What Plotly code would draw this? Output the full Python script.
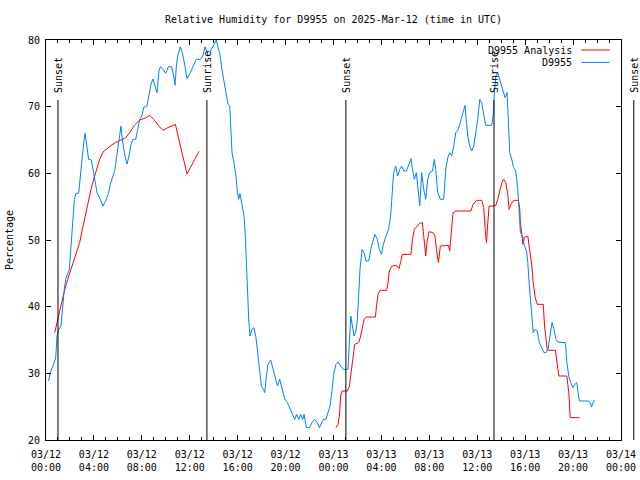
import pandas as pd
import plotly.graph_objects as go

START = pd.Timestamp("2025-03-12 00:00")
END = pd.Timestamp("2025-03-14 00:00")

# D9955 observations: hours since 03/12 00:00 UTC, relative humidity (%)
obs_hours = [0.22, 0.35, 0.64, 0.81, 0.92, 1.06, 1.25, 1.39, 1.53, 1.64, 1.81, 1.95, 2.03, 2.14, 2.25, 2.37,
             2.5, 2.73, 2.87, 3.0, 3.15, 3.26, 3.42, 3.56, 3.79, 3.98, 4.26, 4.54, 4.76, 4.96, 5.23, 5.37,
             5.57, 5.73, 5.87, 6.04, 6.15, 6.26, 6.37, 6.54, 6.76, 6.93, 7.1, 7.26, 7.49, 7.65, 7.82, 8.0,
             8.16, 8.43, 8.6, 8.77, 8.93, 9.1, 9.27, 9.43, 9.55, 9.77, 9.99, 10.22, 10.49, 10.66, 10.77,
             10.88, 10.99, 11.22, 11.38, 11.6, 11.77, 12.05, 12.33, 12.55, 12.89, 13.1, 13.27, 13.44, 13.72,
             13.94, 14.22, 14.39, 14.5, 14.64, 14.78, 14.92, 15.06, 15.19, 15.34, 15.42, 15.53, 15.69, 15.86,
             15.98, 16.09, 16.19, 16.36, 16.53, 16.64, 16.73, 16.81, 16.92, 17.03, 17.2, 17.36, 17.53, 17.7,
             17.84, 17.98, 18.15, 18.26, 18.4, 18.53, 18.76, 18.95, 19.15, 19.32, 19.51, 19.7, 19.93, 20.15,
             20.37, 20.6, 20.76, 20.93, 21.1, 21.26, 21.43, 21.54, 21.74, 22.01, 22.2, 22.43, 22.65, 22.82,
             22.99, 23.15, 23.37, 23.54, 23.71, 23.82, 23.93, 24.04, 24.21, 24.38, 24.6, 24.83, 25.21, 25.33,
             25.44, 25.58, 25.71, 25.88, 25.99, 26.1, 26.21, 26.38, 26.55, 26.71, 26.94, 27.11, 27.27, 27.44,
             27.66, 27.83, 28.0, 28.16, 28.38, 28.6, 28.77, 28.88, 29.02, 29.19, 29.36, 29.53, 29.69, 29.86,
             30.08, 30.3, 30.47, 30.64, 30.75, 30.92, 31.09, 31.2, 31.36, 31.53, 31.7, 31.86, 32.03, 32.26,
             32.42, 32.53, 32.7, 32.92, 33.2, 33.37, 33.54, 33.7, 33.87, 34.04, 34.2, 34.37, 34.54, 34.71,
             34.87, 34.98, 35.1, 35.21, 35.37, 35.54, 35.71, 35.87, 36.04, 36.21, 36.37, 36.54, 36.71, 37.21,
             37.32, 37.44, 37.55, 37.71, 37.88, 38.05, 38.21, 38.32, 38.49, 38.6, 38.71, 38.88, 39.04, 39.21,
             39.38, 39.49, 39.6, 39.77, 39.94, 40.11, 40.22, 40.33, 40.45, 40.56, 40.67, 40.84, 41.01, 41.18,
             41.4, 41.57, 41.74, 41.91, 42.07, 42.24, 42.41, 42.57, 42.74, 43.36, 43.48, 43.64, 43.81, 43.98,
             44.15, 44.31, 44.42, 44.53, 45.26, 45.43, 45.54, 45.77]
obs_rh = [28.85, 30.1, 31.4, 32.3, 35.6, 36.6, 37.1, 40.6, 42.6, 44.1, 45.1, 45.6, 47.6, 50.6, 53.6, 56.1,
          57.0, 57.0, 59.6, 62.6, 64.6, 66.0, 63.6, 62.1, 62.0, 60.1, 57.1, 56.1, 55.1, 55.8, 57.1, 58.4,
          59.6, 60.35, 62.1, 64.1, 65.6, 67.1, 65.1, 63.1, 61.4, 62.6, 64.4, 65.1, 65.1, 66.6, 68.1, 68.6,
          69.9, 70.1, 71.6, 73.4, 74.15, 73.1, 72.1, 75.35, 76.0, 75.6, 75.0, 76.0, 76.0, 74.6, 73.2,
          76.1, 77.6, 79.0, 78.1, 76.1, 74.2, 75.1, 76.1, 77.1, 77.1, 77.6, 79.0, 78.2, 78.35,
          79.1, 80.0, 78.6, 78.1, 76.1, 74.6, 72.6, 71.1, 70.35, 70.1, 66.6, 63.1, 61.6, 59.6,
          57.1, 56.1, 57.0, 55.1, 53.6, 50.6, 47.6, 43.1, 38.15, 35.6, 36.65, 36.85, 35.35, 32.6,
          30.1, 28.1, 27.6, 27.1, 29.6, 31.35, 32.0, 30.6, 29.1, 28.1, 29.1, 27.6, 26.1, 25.6,
          24.6, 23.85, 23.1, 23.85, 23.1, 23.85, 23.1, 23.85, 21.85, 21.85, 22.6, 23.1, 22.6, 21.85,
          22.6, 23.1, 23.1, 24.1, 25.1, 26.6, 28.6, 30.1, 31.35, 31.7, 31.1, 30.6, 30.6, 34.6,
          38.6, 37.1, 35.6, 36.35, 38.1, 41.6, 45.6, 48.6, 48.1, 46.85, 46.85, 48.6, 49.6, 50.85,
          50.1, 48.6, 47.85, 49.35, 50.6, 51.6, 53.6, 56.6, 60.1, 61.1, 59.6, 60.6, 61.1, 60.35,
          60.35, 61.35, 62.2, 60.1, 59.1, 60.1, 57.6, 55.1, 60.1, 57.6, 56.1, 59.1, 60.1, 60.35,
          62.1, 60.6, 57.1, 56.1, 56.1, 60.6, 62.35, 63.1, 62.6, 64.1, 66.1, 66.35, 67.35, 68.6,
          69.6, 70.2, 67.6, 65.6, 64.1, 63.35, 64.1, 66.1, 68.1, 71.1, 70.6, 68.85, 67.2, 67.2,
          68.6, 72.35, 74.6, 75.1, 74.1, 73.1, 72.35, 71.35, 72.1, 67.6, 63.1, 62.1, 60.85, 60.35,
          57.6, 54.6, 51.1, 50.6, 49.1, 48.35, 46.6, 43.6, 40.6, 38.1, 36.1, 36.6, 36.35, 34.6,
          33.6, 33.1, 33.1, 33.6, 35.6, 37.6, 36.6, 35.1, 34.7, 34.6, 31.6, 29.6, 28.6, 27.85,
          28.35, 28.6, 27.1, 25.85, 25.85, 25.6, 25.0, 26.0]

# D9955 Analysis (None marks the gap between the two analysis periods)
ana_hours = [0.73, 0.92, 1.09, 1.34, 1.53, 1.81, 2.09, 2.37, 2.59, 2.81, 3.04, 3.26, 3.54, 3.76, 3.98, 4.26,
             4.48, 4.76, 5.09, 5.43, 5.79, 6.21, 6.63, 6.99, 7.38, 7.82, 8.3, 8.66, 8.99, 9.41, 9.77, 10.16,
             10.52, 10.8, 11.22, 11.55, 11.77, 12.05, 12.39, 12.77, 18.0,
             24.21, 24.38, 24.49, 24.6, 24.71, 25.16, 25.33, 25.44, 25.55, 25.66, 25.77, 26.1, 26.27, 26.44,
             26.55, 26.75, 27.5, 27.59, 27.72, 27.89, 28.44, 28.55, 28.66, 28.88, 29.25, 29.47, 29.63, 29.75,
             30.47, 30.59, 30.75, 30.97, 31.2, 31.42, 31.53, 31.7, 31.8, 31.97, 32.31, 32.47, 32.59, 32.76,
             32.92, 33.59, 33.7, 33.81, 33.98, 34.26, 35.48, 35.65, 35.94, 36.38, 36.54, 36.66, 36.77, 36.88,
             36.99, 37.38, 37.55, 37.71, 37.88, 38.05, 38.21, 38.38, 38.55, 38.66, 38.82, 39.04, 39.43, 39.54,
             39.6, 39.71, 39.82, 39.94, 40.22, 40.33, 40.45, 40.56, 40.67, 40.84, 41.01, 41.51, 41.62, 41.74,
             41.85, 42.52, 42.64, 42.81, 43.48, 43.64, 43.76, 44.53]
ana_rh = [36.1, 37.6, 39.1, 40.6, 42.35, 44.1, 45.6, 47.1, 48.35, 49.6, 51.6, 53.6, 55.6, 57.6, 59.1, 60.6,
          62.1, 63.2, 63.7, 64.2, 64.6, 65.0, 65.3, 66.1, 67.2, 68.0, 68.3, 68.7, 68.1, 67.1, 66.45, 66.85,
          67.2, 67.35, 64.1, 61.6, 59.9, 60.85, 62.1, 63.3, None,
          21.85, 22.35, 23.6, 26.6, 27.35, 27.35, 28.1, 29.6, 31.6, 33.35, 34.35, 34.6, 35.6, 37.1,
          38.1, 38.45, 38.45, 40.1, 41.85, 42.45, 42.45, 43.6, 45.35, 46.1, 46.2, 45.7, 47.1, 47.85,
          47.85, 50.1, 51.6, 52.1, 52.5, 52.6, 50.6, 47.6, 49.6, 51.25, 51.1, 50.6, 48.6, 46.6,
          49.1, 49.2, 48.35, 50.6, 54.1, 54.35, 54.35, 55.35, 55.95, 55.95, 54.85, 51.6, 49.6, 52.6,
          55.1, 55.1, 55.2, 56.1, 57.6, 58.6, 59.1, 58.6, 56.85, 54.6, 55.35, 55.95, 55.95, 54.85,
          52.6, 50.6, 49.35, 50.4, 50.6, 49.1, 47.6, 46.1, 43.6, 41.35, 40.35, 40.35, 37.1, 34.6,
          33.45, 33.45, 31.6, 29.6, 29.6, 27.1, 23.35, 23.35]

sun_labels = ["Sunset", "Sunrise", "Sunset", "Sunrise", "Sunset"]
sun_times = ["2025-03-12 01:00", "2025-03-12 13:26", "2025-03-13 01:02",
             "2025-03-13 13:24", "2025-03-14 01:04"]

legend_names = ["D9955 Analysis", "D9955"]
legend_colors = ["#ff0000", "#0080ff"]

FONT = "DejaVu Sans Mono"


def to_time(hours):
    return [START + pd.Timedelta(hours=h) for h in hours]


fig = go.Figure()
fig.add_trace(go.Scatter(x=to_time(ana_hours), y=ana_rh, mode="lines", name=legend_names[0],
                         line=dict(color=legend_colors[0], width=1), connectgaps=False))
fig.add_trace(go.Scatter(x=to_time(obs_hours), y=obs_rh, mode="lines", name=legend_names[1],
                         line=dict(color=legend_colors[1], width=1)))

span = (END - START).total_seconds()
y_top_frac = (71 - 20) / 60.0
for lab, t in zip(sun_labels, sun_times):
    xf = (pd.Timestamp(t) - START).total_seconds() / span
    fig.add_shape(type="line", xref="paper", yref="paper", x0=xf, x1=xf, y0=0, y1=y_top_frac,
                  line=dict(color="black", width=1))
    fig.add_annotation(x=xf, y=y_top_frac, xref="paper", yref="paper", text=lab, textangle=-90,
                       showarrow=False, xanchor="center", yanchor="bottom", yshift=5,
                       font=dict(family=FONT, size=10, color="black"))

# gnuplot-style legend: right-aligned text with line sample on its right
leg_rows = [0.975, 0.944]
for name, col, yy in zip(legend_names, legend_colors, leg_rows):
    fig.add_annotation(x=0.918, y=yy, xref="paper", yref="paper", text=name, showarrow=False,
                       xanchor="right", yanchor="middle", font=dict(family=FONT, size=10, color="black"))
    fig.add_shape(type="line", xref="paper", yref="paper", x0=0.931, x1=0.98, y0=yy, y1=yy,
                  line=dict(color=col, width=1))

fig.update_layout(
    width=640, height=480,
    margin=dict(l=46, r=19, t=40, b=40, autoexpand=False),
    paper_bgcolor="white", plot_bgcolor="white",
    showlegend=False,
    hovermode=False,
    font=dict(family=FONT, size=10, color="black"),
    title=dict(text="Relative Humidity for D9955 on 2025-Mar-12 (time in UTC)", x=0.5,
               xref="paper", xanchor="center", y=1 - 19 / 480, yanchor="middle",
               font=dict(family=FONT, size=10, color="black")),
)
fig.update_xaxes(range=[START, END], type="date", dtick=4 * 3600000, tick0=START,
                 tickformat="%m/%d<br>%H:%M", ticks="inside", ticklen=5, tickcolor="black",
                 showline=True, linecolor="black", linewidth=1, mirror="allticks",
                 showgrid=False, zeroline=False, automargin=False, ticklabelstandoff=5,
                 minor=dict(dtick=3600000, ticks="inside", ticklen=3, tickcolor="black", showgrid=False),
                 tickfont=dict(family=FONT, size=10, color="black"))
fig.update_yaxes(range=[20, 80], dtick=10, ticks="inside", ticklen=5, tickcolor="black",
                 showline=True, linecolor="black", linewidth=1, mirror="allticks",
                 showgrid=False, zeroline=False, automargin=False, ticklabelstandoff=3,
                 title=dict(text="Percentage", font=dict(family=FONT, size=10, color="black"), standoff=12),
                 tickfont=dict(family=FONT, size=10, color="black"))

fig.write_html("out.html", config={"displayModeBar": False, "staticPlot": True},
               post_script="document.body.style.margin='0';document.body.style.overflow='hidden';")
